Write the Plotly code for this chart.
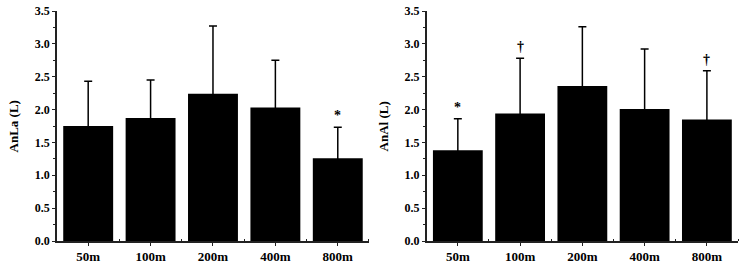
import plotly.graph_objects as go

categories = ["50m", "100m", "200m", "400m", "800m"]
anla_mean = [1.75, 1.87, 2.24, 2.03, 1.26]
anla_upper = [2.43, 2.45, 3.27, 2.75, 1.73]
anal_mean = [1.38, 1.94, 2.36, 2.01, 1.85]
anal_upper = [1.86, 2.78, 3.26, 2.92, 2.59]
anla_marks = ["", "", "", "", "*"]
anal_marks = ["*", "†", "", "", "†"]
y_ticks = [0.0, 0.5, 1.0, 1.5, 2.0, 2.5, 3.0, 3.5]
y_titles = ["AnLa (L)", "AnAl (L)"]

FONT = "Liberation Serif, Times New Roman, serif"
xpos = list(range(len(categories)))

fig = go.Figure()

def add_panel(means, uppers, xa, ya):
    errs = [u - m for u, m in zip(uppers, means)]
    fig.add_trace(go.Bar(
        x=xpos, y=means, xaxis=xa, yaxis=ya, width=0.8,
        marker=dict(color="black", line=dict(width=0)),
        error_y=dict(type="data", symmetric=True, array=errs,
                     color="black", thickness=1.5, width=4),
        showlegend=False, hoverinfo="skip"))

add_panel(anla_mean, anla_upper, "x", "y")
add_panel(anal_mean, anal_upper, "x2", "y2")

annotations = []
for marks, uppers, xr, yr in [(anla_marks, anla_upper, "x", "y"), (anal_marks, anal_upper, "x2", "y2")]:
    for i, (mk, u) in enumerate(zip(marks, uppers)):
        if mk:
            annotations.append(dict(x=xpos[i], y=u, xref=xr, yref=yr, text=f"<b>{mk}</b>",
                                    showarrow=False, yanchor="bottom", yshift=2,
                                    font=dict(family=FONT, size=14, color="black")))

title_font = dict(family=FONT, size=13, color="black", weight="bold")
for title, xp in zip(y_titles, [13 / 743, 383 / 743]):
    annotations.append(dict(x=xp, y=0.53, xref="paper", yref="paper", text=title,
                            textangle=-90, showarrow=False, xanchor="center", yanchor="middle",
                            font=title_font))

fig.update_layout(annotations=annotations)

axis_common = dict(showline=True, linecolor="#222", linewidth=1.5, mirror=False,
                   showgrid=False, zeroline=False, ticks="outside", tickcolor="#222",
                   tickwidth=1.2, ticklen=3, automargin=False)

xaxis_common = dict(axis_common, range=[-0.5, 4.5], tickvals=xpos, ticktext=categories,
                    tickfont=dict(family=FONT, size=13, color="black", weight="bold"),
                    minor=dict(ticks="inside", tick0=0.5, dtick=1, ticklen=2, tickcolor="#222"))
yaxis_common = dict(axis_common, range=[0, 3.5], tickvals=y_ticks,
                    ticktext=[f"{v:.1f}" for v in y_ticks],
                    tickfont=dict(family=FONT, size=12, color="black", weight="bold"),
                    minor=dict(ticks="outside", tick0=0.25, dtick=0.5, ticklen=2, tickcolor="#222"))

fig.update_layout(
    width=743, height=269,
    margin=dict(l=0, r=0, t=0, b=0),
    paper_bgcolor="white", plot_bgcolor="white",
    xaxis=dict(xaxis_common, domain=[0.0767, 0.4966], anchor="y"),
    yaxis=dict(yaxis_common, domain=[0.1041, 0.9591], anchor="x"),
    xaxis2=dict(xaxis_common, domain=[0.5743, 0.9933], anchor="y2"),
    yaxis2=dict(yaxis_common, domain=[0.1041, 0.9591], anchor="x2"),
)

fig.write_html("out.html", config={"displayModeBar": False},
               post_script="document.body.style.margin='0';document.body.style.padding='0';")
